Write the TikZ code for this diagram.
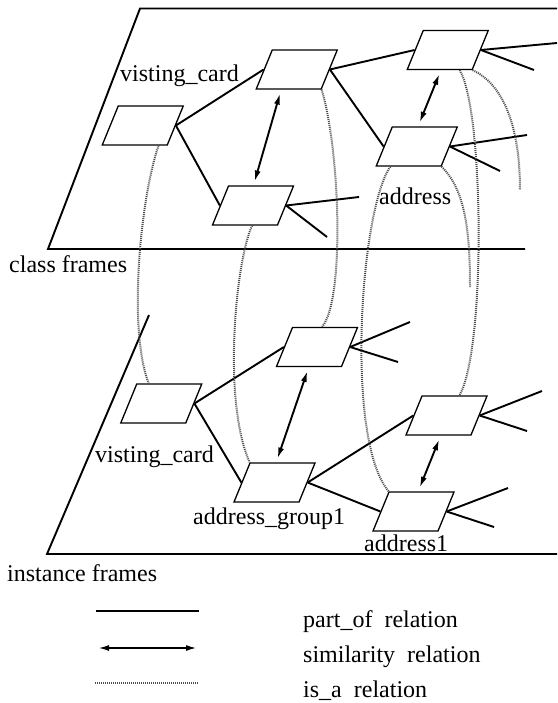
\documentclass[tikz,border=0pt]{standalone}
\usepackage{fontspec}
\setmainfont{Liberation Serif}
\usetikzlibrary{arrows.meta}

\begin{document}
\begin{tikzpicture}[x=1pt,y=1pt,
		frame/.style={draw, line width=1.3pt, rectangle, xslant=0.41, minimum width=65pt, minimum height=39pt,
			inner sep=0pt, fill=white},
		plane/.style={line width=1.9pt},
		partof/.style={line width=1.9pt},
		similar/.style={line width=1.9pt, {Latex[length=11pt,width=6pt]}-{Latex[length=11pt,width=6pt]},
			shorten <=4pt, shorten >=4pt},
		isa/.style={line width=2pt, black!70, dash pattern=on 1pt off 1pt},
		lbl/.style={font=\fontsize{24}{28}\selectfont, inner sep=0pt, anchor=base west}]
	\useasboundingbox (0,0) rectangle (557,-703);
	\draw[plane] (557,-8.5) -- (140,-8.5) -- (48,-249) -- (525,-249);
	\draw[plane] (149,-315) -- (47,-554) -- (557,-554);
	\foreach \n/\x/\y in {cvc/142.75/125.5, cb/296.75/69.5, cc/447.75/50, cgroup/253/205.5, caddr/416.75/146.5,
		ivc/161.25/403.5, ib/317/347, igroup/274.5/482.5, ic/446.5/415.5, iaddr/413.5/511.5}{
		\node[frame] (\n) at (\x,-\y) {};
	}
	\foreach \n/\x/\y in {cc1/557/43, cc2/534/70, ca1/527/135, ca2/500/171, cg1/359/197, cg2/327/237,
		ib1/410/322, ib2/398/362, ic1/542/391, ic2/527/431, ia1/508/488, ia2/494/527,
		ea/470/287, eb/520/190, la/96/611, lb/199/611, lc/98/648, ld/197/648, le/95/683, lf/199/683}{
		\coordinate (\n) at (\x,-\y);
	}
	\foreach \a\b in {cvc/cb, cvc/cgroup, cb/cc, cb/caddr, ivc/ib, ivc/igroup, igroup/ic, igroup/iaddr}{
		\draw[partof] (\a.east) -- (\b.west);
	}
	\foreach \a\b in {cc/cc1, cc/cc2, caddr/ca1, caddr/ca2, cgroup/cg1, cgroup/cg2,
		ib/ib1, ib/ib2, ic/ic1, ic/ic2, iaddr/ia1, iaddr/ia2}{
		\draw[partof] (\a.east) -- (\b);
	}
	\draw[similar] (cb.-110) -- (cgroup.111);
	\draw[similar] (cc.-86) -- (caddr.109);
	\draw[similar] (ib.-90) -- (igroup.108);
	\draw[similar] (ic.-83) -- (iaddr.100);
	\draw[isa] (cvc.-40) .. controls (140,-200) and (128,-330) .. (ivc.136);
	\draw[isa] (cgroup.-70) .. controls (236,-260) and (222,-400) .. (igroup.north west);
	\draw[isa] (cb.south east) .. controls (340,-150) and (345,-300) .. (ib.99);
	\draw[isa] (caddr.-132) .. controls (360,-210) and (345,-440) .. (iaddr.north west);
	\draw[isa] (caddr.south east) .. controls (465,-190) and (470,-230) .. (ea);
	\draw[isa] (cc.-45) .. controls (484,-110) and (486,-350) .. (ic.77);
	\draw[isa] (cc.south east) .. controls (505,-85) and (520,-130) .. (eb);
	\node[lbl] (tvc) at (120,-82) {visting\_card};
	\node[lbl] (taddr) at (379,-205) {address};
	\node[lbl] (tclass) at (9,-272) {class frames};
	\node[lbl] (tivc) at (95,-462) {visting\_card};
	\node[lbl] (tgroup) at (193,-524) {address\_group1};
	\node[lbl] (tiaddr) at (364,-551) {address1};
	\node[lbl] (tinst) at (7,-581) {instance frames};
	\draw[partof] (la) -- (lb);
	\draw[similar, shorten <=0pt, shorten >=0pt] (lc) -- (ld);
	\draw[isa, line width=1.5pt] (le) -- (lf);
	\node[lbl] (tpart) at (303,-627) {part\_of\ \ relation};
	\node[lbl] (tsim) at (303,-662) {similarity\ \ relation};
	\node[lbl] (tisa) at (303,-697) {is\_a\ \ relation};
\end{tikzpicture}
\end{document}
